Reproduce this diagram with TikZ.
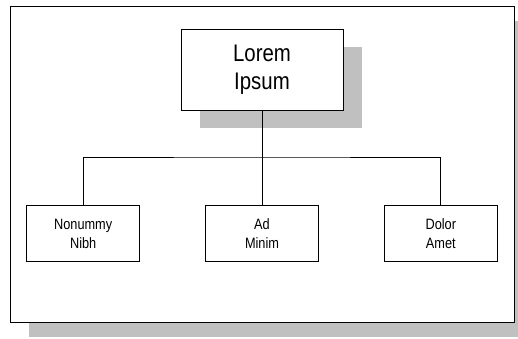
\documentclass[tikz,border=0pt]{standalone}
\usepackage{fontspec}
\setmainfont[FakeStretch=0.85]{Liberation Sans}
\usetikzlibrary{positioning,shadows}
\definecolor{shadowgray}{HTML}{C0C0C0}

\begin{document}
\begin{tikzpicture}[
        x=1pt, y=-1pt,
        node distance=95pt,
        frame/.style={
            rectangle,
            draw=black,
            line width=1pt,
            fill=white,
            minimum width=504pt,
            minimum height=316pt,
            drop shadow={shadow xshift=19pt, shadow yshift=-15pt, fill=shadowgray, opacity=1}
        },
        headbox/.style={
            rectangle,
            draw=black,
            line width=0.9pt,
            fill=white,
            align=center,
            minimum width=162pt,
            minimum height=81pt,
            font=\fontsize{24}{28}\selectfont,
            drop shadow={shadow xshift=19pt, shadow yshift=-18pt, fill=shadowgray, opacity=1}
        },
        leafbox/.style={
            rectangle,
            draw=black,
            line width=0.8pt,
            fill=white,
            align=center,
            minimum width=113pt,
            minimum height=56pt,
            font=\fontsize{15}{19}\selectfont
        },
        link/.style={
            line width=0.7pt,
            color=black
        }
    ]
        \useasboundingbox (0,0) rectangle (518,338);
        \node (frame) [frame] at (262,164) {};

        \node (head) [headbox] at (262,69.5) {Lorem\\Ipsum};
        \node (mid) [leafbox, below=of head] {Ad\\Minim};
        \node (left) [leafbox, left=65pt of mid] {Nonummy\\Nibh};
        \node (right) [leafbox, right=65pt of mid] {Dolor\\Amet};

        \coordinate (bus) at (262,157);
        \draw[link, line width=1pt] (head.south) -- (bus);
        \draw[link] (left.north) |- (bus) -| (right.north);
        \draw[link] (mid.north) -- (bus);
    \end{tikzpicture}
\end{document}
